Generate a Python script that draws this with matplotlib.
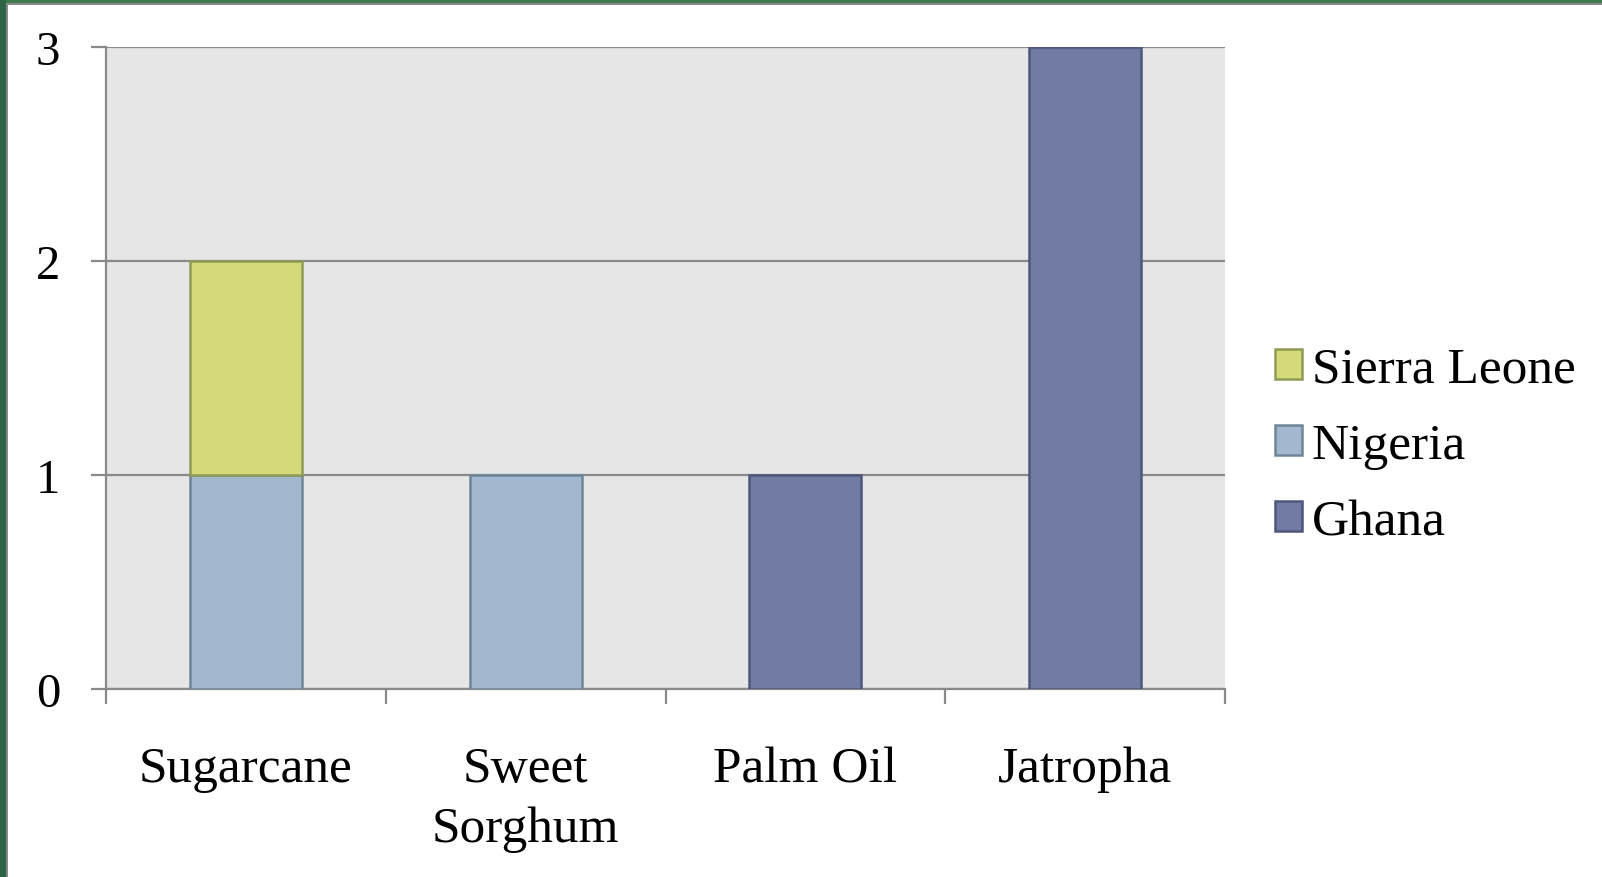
import matplotlib.pyplot as plt
import matplotlib.patches as mpatches
import numpy as np

plt.rcParams['font.family'] = ['Liberation Serif', 'DejaVu Serif']

crops = ["Sugarcane", "Sweet\nSorghum", "Palm Oil", "Jatropha"]
ghana = [0, 0, 1, 3]
nigeria = [1, 1, 0, 0]
sierra_leone = [1, 0, 0, 0]

series = [
    ("Ghana", ghana, "#727BA3", "#4E567A"),
    ("Nigeria", nigeria, "#A2B8CF", "#6F8599"),
    ("Sierra Leone", sierra_leone, "#D4DA7A", "#8F9A55"),
]

fig = plt.figure(figsize=(16.02, 8.78), dpi=100)
ax = fig.add_axes([0.0662, 0.2141, 0.6985, 0.7312])
ax.set_facecolor("#E6E6E6")

x = np.arange(len(crops))
bottom = np.zeros(len(crops))
handles = []
for name, vals, fc, ec in series:
    vals = np.array(vals, dtype=float)
    m = vals > 0
    ax.bar(x[m], vals[m], 0.4, bottom=bottom[m], color=fc, edgecolor=ec,
           linewidth=1.8, zorder=3)
    bottom += vals
    handles.append(mpatches.Patch(facecolor=fc, edgecolor=ec, linewidth=1.8, label=name))

ax.set_xlim(-0.5, len(crops) - 0.5)
ax.set_ylim(0, 3)
ax.set_yticks([0, 1, 2, 3])
ax.set_xticks(x)
ax.set_xticklabels(crops, fontsize=37, linespacing=1.36)
ax.set_xticks(np.arange(len(crops) + 1) - 0.5, minor=True)
ax.tick_params(axis='x', which='major', length=0, pad=41)
ax.tick_params(axis='x', which='minor', length=11, width=1.6, color="#8A8A8A")
ax.tick_params(axis='y', length=11, width=1.6, color="#8A8A8A", labelsize=35, pad=22)
ax.yaxis.grid(True, color="#8A8A8A", linewidth=1.6, zorder=1)
ax.set_axisbelow(True)
for s in ["top", "right"]:
    ax.spines[s].set_visible(False)
for s in ["left", "bottom"]:
    ax.spines[s].set_color("#8A8A8A")
    ax.spines[s].set_linewidth(1.6)

fig.legend(handles=handles[::-1], loc="center left", bbox_to_anchor=(0.783, 0.491),
           frameon=False, fontsize=37, handlelength=0.52, handleheight=0.52,
           handletextpad=0.2, labelspacing=0.58, borderaxespad=0)

# slide border remnants
fig.patches.append(mpatches.Rectangle((0, 1 - 4 / 878), 1, 4 / 878, transform=fig.transFigure,
                                      facecolor="#3E7A52", edgecolor="none"))
fig.patches.append(mpatches.Rectangle((0, 1 - 6 / 878), 1, 2 / 878, transform=fig.transFigure,
                                      facecolor="#888888", edgecolor="none"))
fig.patches.append(mpatches.Rectangle((0, 0), 6 / 1602, 1, transform=fig.transFigure,
                                      facecolor="#2E6446", edgecolor="none"))
fig.patches.append(mpatches.Rectangle((6 / 1602, 0), 2 / 1602, 1 - 4 / 878, transform=fig.transFigure,
                                      facecolor="#888888", edgecolor="none"))

fig.savefig("out.png", dpi=100)
